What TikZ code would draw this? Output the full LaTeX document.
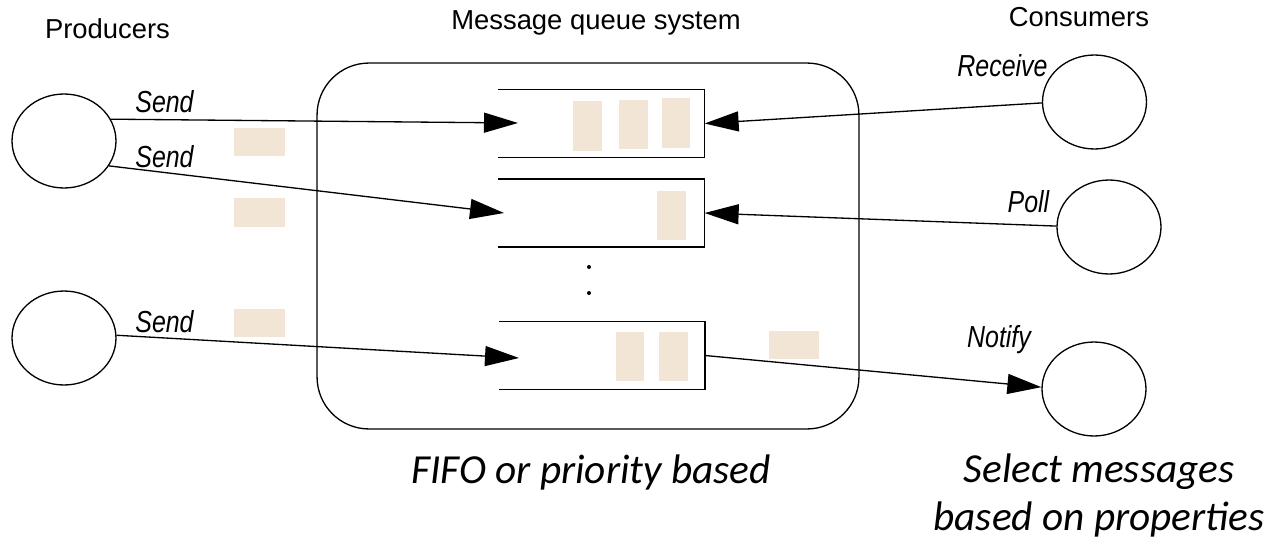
\documentclass[tikz,border=0pt]{standalone}
\usepackage{fontspec}
\setmainfont{Liberation Sans}
\newfontfamily\carl{Carlito}
\newfontfamily\narrowsans[FakeStretch=0.82]{Liberation Sans}
\usetikzlibrary{arrows.meta,shapes.geometric}
\definecolor{peach}{RGB}{243,229,213}
\begin{document}
\begin{tikzpicture}[x=0.02cm,y=-0.02cm,
  line width=0.75pt,
  actor/.style={draw, ellipse, minimum width=2.08cm, minimum height=1.88cm, inner sep=0pt},
  queuebox/.style={minimum width=4.1cm, minimum height=1.34cm, inner sep=0pt},
  msg/.style={fill=peach, draw=none},
  head/.style={font=\fontsize{15.6}{18}\selectfont, anchor=base, inner sep=0pt},
  verb/.style={font=\narrowsans\itshape\fontsize{17.3}{20}\selectfont, anchor=base, inner sep=0pt},
  note/.style={font=\carl\itshape\fontsize{23.5}{26.8}\selectfont, anchor=base, inner sep=0pt},
  flow/.style={-{Triangle[length=0.68cm,width=0.4cm]}},
]
\useasboundingbox (0,0) rectangle (1272,541);

% message queue system container
\node[draw, rounded corners=1.04cm, minimum width=10.84cm, minimum height=7.32cm, inner sep=0pt] (mqs) at (588,246) {};

% queues
\node[queuebox] (q1) at (601.5,123.5) {};
\node[queuebox] (q2) at (601.5,213) {};
\node[queuebox] (q3) at (602,355.5) {};
\foreach \q in {q1,q2,q3}
  \draw (\q.north west) -- (\q.north east) -- (\q.south east) -- (\q.south west);

% messages
\fill[msg] (573,101) rectangle (602,151);
\fill[msg] (619,100) rectangle (648,149);
\fill[msg] (662,98) rectangle (690,148);
\fill[msg] (657,191) rectangle (686,240);
\fill[msg] (616,332) rectangle (644,381);
\fill[msg] (659,332) rectangle (688,381);
\fill[msg] (234,128) rectangle (285,156);
\fill[msg] (234,198) rectangle (285,227);
\fill[msg] (234,309) rectangle (285,337);
\fill[msg] (769,331) rectangle (819,359);

% dots
\fill (589,267) circle[radius=0.04cm];
\fill (589,293) circle[radius=0.04cm];

% producers and consumers
\node[actor] (p1) at (64,141) {};
\node[actor] (p2) at (64,338) {};
\node[actor] (c1) at (1094.5,102) {};
\node[actor] (c2) at (1109,227) {};
\node[actor] (c3) at (1094,389) {};

% arrow ends inside queues
\coordinate (t1) at (518,123);
\coordinate (t2) at (504,213);
\coordinate (t3) at (519,358);

% connectors
\draw[flow] (p1.25) -- (t1);
\draw[flow] (p1.-29) -- (t2);
\draw[flow] (p2.3) -- (t3);
\draw[flow] (c1.181) -- (q1.east);
\draw[flow] (c2.179) -- (q2.east);
\draw[flow] (q3.east) -- (c3.178);

% headings
\node[head] (hp) at (107.5,38) {Producers};
\node[head] (hm) at (596,30) {Message queue system};
\node[head] (hc) at (1079,27) {Consumers};

% operation labels
\node[verb] (s1) at (164.5,112) {Send};
\node[verb] (s2) at (164.5,167) {Send};
\node[verb] (s3) at (164.5,332) {Send};
\node[verb] (rc) at (1002.5,76) {Receive};
\node[verb] (pl) at (1028.5,212) {Poll};
\node[verb] (nt) at (999,347) {Notify};

% notes
\node[note] (fifo) at (591,483) {FIFO or priority based};
\node[note, align=center] (sel) at (1099,530) {Select messages\\based on properties};
\end{tikzpicture}
\end{document}
